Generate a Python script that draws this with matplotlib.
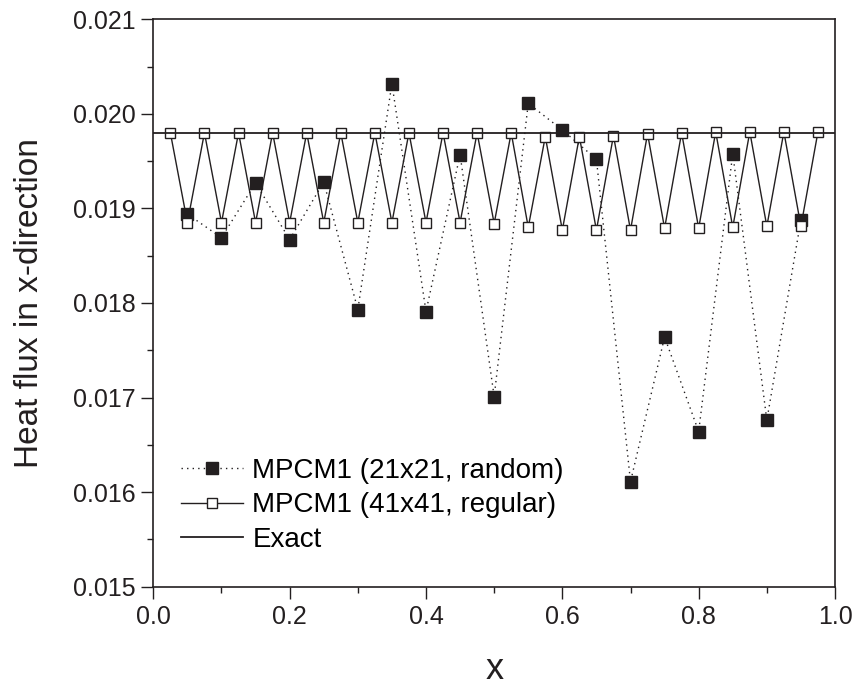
import numpy as np
import matplotlib
matplotlib.use("Agg")
import matplotlib.pyplot as plt
from matplotlib.ticker import MultipleLocator, FormatStrFormatter

# MPCM1 (21x21, random nodes)
x_random = [0.05, 0.10, 0.15, 0.20, 0.25, 0.30, 0.35, 0.40, 0.45, 0.50,
            0.55, 0.60, 0.65, 0.70, 0.75, 0.80, 0.85, 0.90, 0.95]
q_random = [0.01894, 0.01869, 0.01927, 0.01867, 0.01928, 0.01793, 0.02032,
            0.01791, 0.01957, 0.01701, 0.02011, 0.01983, 0.01952, 0.01611,
            0.01764, 0.01664, 0.01958, 0.01676, 0.01888]

# MPCM1 (41x41, regular nodes)
x_regular = [0.025, 0.050, 0.075, 0.100, 0.125, 0.150, 0.175, 0.200, 0.225,
             0.250, 0.275, 0.300, 0.325, 0.350, 0.375, 0.400, 0.425, 0.450,
             0.475, 0.500, 0.525, 0.550, 0.575, 0.600, 0.625, 0.650, 0.675,
             0.700, 0.725, 0.750, 0.775, 0.800, 0.825, 0.850, 0.875, 0.900,
             0.925, 0.950, 0.975]
q_regular = [0.01980, 0.01885, 0.01980, 0.01885, 0.01980, 0.01885, 0.01980,
             0.01885, 0.01980, 0.01885, 0.01980, 0.01885, 0.01980, 0.01885,
             0.01980, 0.01885, 0.01980, 0.01885, 0.01980, 0.01884, 0.01980,
             0.01880, 0.01976, 0.01877, 0.01976, 0.01877, 0.01977, 0.01877,
             0.01979, 0.01879, 0.01980, 0.01879, 0.01981, 0.01880, 0.01981,
             0.01881, 0.01981, 0.01881, 0.01981]

# exact solution (constant)
x_exact = [0.0, 1.0]
q_exact = [0.0198, 0.0198]

ink = "#231f20"

plt.rcParams["font.family"] = ["Liberation Sans", "DejaVu Sans"]

fig = plt.figure(figsize=(8.58, 6.88), dpi=100)
ax = fig.add_axes([0.1787, 0.1472, 0.7945, 0.8248])

ax.plot(x_random, q_random, color=ink, lw=1.0, ls=(0, (1, 3)),
        marker="s", ms=8, mfc=ink, mec=ink, zorder=2,
        label="MPCM1 (21x21, random)")
ax.plot(x_regular, q_regular, color=ink, lw=1.0, ls="-",
        marker="s", ms=7.5, mfc="white", mec=ink, mew=1.0, zorder=3,
        label="MPCM1 (41x41, regular)")
ax.plot(x_exact, q_exact, color=ink, lw=1.3, zorder=4, label="Exact")

ax.set_xlim(0.0, 1.0)
ax.set_ylim(0.015, 0.021)
ax.xaxis.set_major_locator(MultipleLocator(0.2))
ax.xaxis.set_minor_locator(MultipleLocator(0.1))
ax.yaxis.set_major_locator(MultipleLocator(0.001))
ax.yaxis.set_minor_locator(MultipleLocator(0.0005))
ax.xaxis.set_major_formatter(FormatStrFormatter("%.1f"))
ax.yaxis.set_major_formatter(FormatStrFormatter("%.3f"))

ax.tick_params(which="major", direction="out", length=8.4, width=1.0,
               labelsize=18, pad=4.5, colors=ink)
ax.tick_params(which="minor", direction="out", length=4.3, width=1.0, colors=ink)
ax.tick_params(top=False, right=False, which="both")
for sp in ax.spines.values():
    sp.set_linewidth(1.2)
    sp.set_color(ink)

ax.set_xlabel("x", fontsize=26, color=ink, labelpad=17)
ax.set_ylabel("Heat flux in x-direction", fontsize=24, color=ink, labelpad=20)

ax.legend(loc="lower left", bbox_to_anchor=(0.04, 0.06), frameon=False,
          fontsize=20, numpoints=1, handlelength=2.25, handletextpad=0.33,
          labelspacing=0.3, borderpad=0.0, borderaxespad=0.0)

fig.savefig("out.png", dpi=100)
